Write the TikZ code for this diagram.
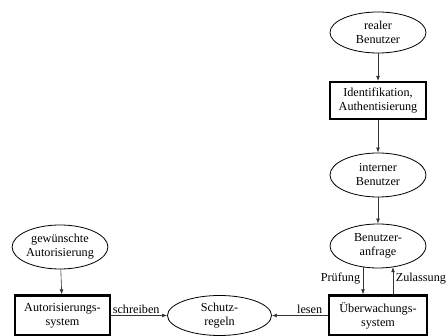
\documentclass[tikz,border=0pt]{standalone}
\usepackage{fontspec}
\setmainfont{Liberation Serif}
\usetikzlibrary{shapes.geometric,arrows.meta}
\begin{document}
\begin{tikzpicture}[x=1pt,y=-1pt,
  font=\fontsize{12.2}{14}\selectfont,
  ell/.style={draw,ellipse,line width=0.8pt,minimum width=96pt,minimum height=44pt,inner sep=0pt,align=center},
  box/.style={draw,rectangle,line width=2.2pt,minimum width=96pt,minimum height=39pt,inner sep=0pt,align=center},
  arr/.style={-{Latex[length=5pt,width=3.8pt]},line width=0.6pt,draw=black!80},
  lab/.style={inner sep=1.5pt}]
\useasboundingbox (0,0) rectangle (448,336);
% right column
\node[ell,minimum height=41pt] (realer) at (378,32.5) {realer\\Benutzer};
\node[box,minimum height=37pt] (ident) at (378,100.5) {Identifikation,\\Authentisierung};
\node[ell] (intern) at (378,175) {interner\\Benutzer};
\node[ell] (anfrage) at (378,246) {Benutzer-\\anfrage};
\node[box,minimum width=98pt,minimum height=40pt] (ueber) at (378,315.5) {Überwachungs-\\system};
% left column
\node[ell,minimum width=93pt] (gew) at (60,247) {gewünschte\\Autorisierung};
\node[box,minimum width=95pt,minimum height=40pt] (autor) at (62.5,315.5) {Autorisierungs-\\system};
% middle
\node[ell,minimum width=104pt,minimum height=40pt] (schutz) at (219.5,315.5) {Schutz-\\regeln};
% connectors
\draw[arr] (realer) -- (ident);
\draw[arr] (ident) -- (intern);
\draw[arr] (intern) -- (anfrage);
\draw[arr] ([xshift=-15pt,yshift=1.2pt]anfrage.south) -- ([xshift=-15pt]ueber.north)
  node[lab,midway,anchor=east,xshift=-1pt,yshift=2pt] (lpruef) {Prüfung};
\draw[arr] ([xshift=15pt]ueber.north) -- ([xshift=15pt,yshift=1.2pt]anfrage.south)
  node[lab,midway,anchor=west,xshift=1pt,yshift=2pt] (lzul) {Zulassung};
\draw[arr] (gew) -- (autor);
\draw[arr] (autor) -- (schutz);
\draw[arr] (ueber) -- (schutz);
\node[lab,anchor=south west] (lschreib) at (autor.east) {schreiben};
\node[lab,anchor=south east] (llesen) at ([xshift=-4pt]ueber.west) {lesen};
\end{tikzpicture}
\end{document}
